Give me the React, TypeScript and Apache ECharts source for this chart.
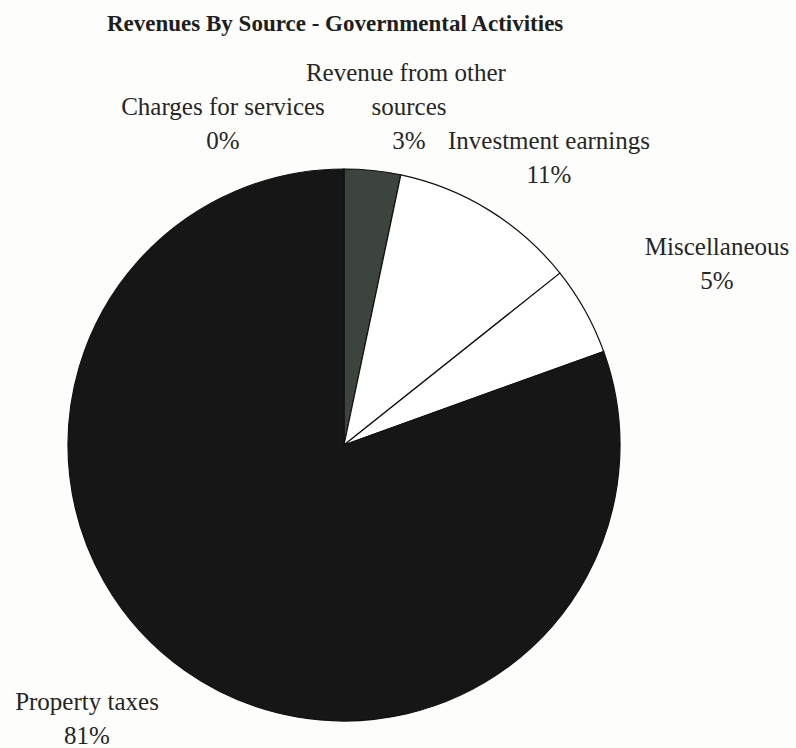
import React, { useEffect, useRef } from "react";
import * as echarts from "echarts";

const titleText = "Revenues By Source - Governmental Activities";
const categories = [
  "Charges for services",
  "Revenue from other sources",
  "Investment earnings",
  "Miscellaneous",
  "Property taxes",
];
const shares = [0, 3.3, 11.0, 5.2, 80.5];
const sliceColors = ["#1a1a1a", "#3d443d", "#ffffff", "#ffffff", "#161616"];

// label anchor (center of label block) for each slice
const labelSpots: [number, number][] = [
  [223, 123],
  [409, 106],
  [549, 157],
  [717, 263],
  [87, 718],
];

export default function App() {
  const ref = useRef<HTMLDivElement>(null);
  useEffect(() => {
    if (!ref.current) return;
    const chart = echarts.init(ref.current, undefined, { renderer: "svg" });
    chart.setOption({
      animation: false,
      backgroundColor: "#fdfdfb",
      title: {
        text: titleText,
        left: 102,
        top: 7,
        textStyle: {
          fontFamily: "Liberation Serif",
          fontWeight: "bold",
          fontSize: 23,
          color: "#1e1e1e",
        },
      },
      series: [
        {
          type: "pie",
          center: [344, 445],
          radius: 276,
          startAngle: 90,
          clockwise: true,
          avoidLabelOverlap: false,
          stillShowZeroSum: true,
          data: categories.map((name, i) => ({
            name,
            value: shares[i],
            itemStyle: { color: sliceColors[i] },
            label: i === 1 ? { width: 230, overflow: "break" } : undefined,
          })),
          itemStyle: { borderColor: "#111", borderWidth: 1.2 },
          label: {
            show: true,
            position: "outside",
            formatter: (p: any) => `${p.name}\n${Math.round(p.value)}%`,
            fontFamily: "Liberation Serif",
            fontSize: 25,
            lineHeight: 34,
            color: "#262626",
            align: "center",
          },
          labelLine: { show: false },
          labelLayout: (params: any) => {
            const s = labelSpots[params.dataIndex];
            return { x: s[0], y: s[1], align: "center", verticalAlign: "middle" };
          },
          emphasis: { disabled: true },
        },
      ],
    });
    return () => chart.dispose();
  }, []);
  return (
    <div
      ref={ref}
      style={{ position: "fixed", left: 0, top: 0, width: 796, height: 748 }}
    />
  );
}
